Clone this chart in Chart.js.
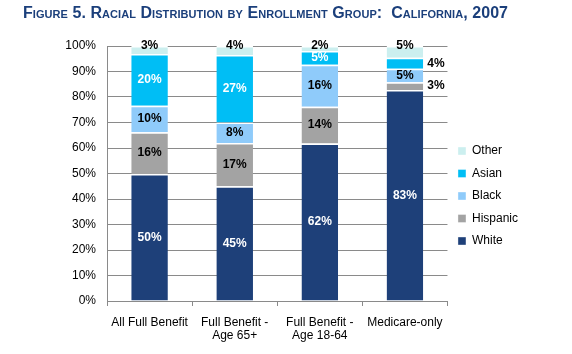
<!DOCTYPE html>
<html><head><meta charset="utf-8">
<script src="https://cdn.jsdelivr.net/npm/chart.js@4/dist/chart.umd.min.js"></script>
<style>
html,body{margin:0;padding:0;background:#fff;}
#wrap{position:relative;width:572px;height:354px;overflow:hidden;}
canvas{position:absolute;left:0;top:0;}
#title{position:absolute;left:23px;top:4px;font:bold 16px "Liberation Sans",Arial,sans-serif;font-variant:small-caps;letter-spacing:0.06px;color:#1B3F7B;white-space:nowrap;}
</style></head><body>
<div id="wrap"><canvas id="c" width="572" height="354"></canvas><div id="title">Figure 5. Racial Distribution by Enrollment Group:&nbsp; California, 2007</div></div>
<script>
const categories = [["All Full Benefit"], ["Full Benefit -", "Age 65+"], ["Full Benefit -", "Age 18-64"], ["Medicare-only"]];
const seriesNames = ["White", "Hispanic", "Black", "Asian", "Other"];
const white    = [49.8, 45.0, 61.8, 82.7];
const hispanic = [16.4, 17.0, 14.4, 3.1];
const black    = [10.4, 8.0, 16.4, 5.3];
const asian    = [20.3, 26.5, 5.4, 4.3];
const other    = [3.1, 3.5, 2.0, 4.6];
const yTicks = [0,10,20,30,40,50,60,70,80,90,100];

const FONT = '"Liberation Sans", Arial, sans-serif';
const GRID = '#8A8A8A';
const colors = ['#1E4079', '#A3A3A3', '#8FCBFA', '#00BEF5', '#CCEFEF'];
const labelColors = ['#FFFFFF', '#000000', '#000000', '#FFFFFF', '#000000'];
const values = [white, hispanic, black, asian, other];

const segLabels = {
  id: 'segLabels',
  afterDatasetsDraw(chart) {
    const ctx = chart.ctx;
    ctx.save();
    ctx.font = 'bold 12px ' + FONT;
    ctx.textBaseline = 'middle';
    chart.data.datasets.forEach((ds, di) => {
      const meta = chart.getDatasetMeta(di);
      meta.data.forEach((bar, i) => {
        const v = ds.data[i];
        const txt = Math.round(v) + '%';
        const p = bar.getProps(['x', 'y', 'base', 'width'], true);
        let tx = p.x, ty = (p.y + p.base) / 2, align = 'center', color = labelColors[di];
        if (ds.label === 'Other') { ty = p.y; }
        else if (v < 4.5) { tx = p.x + p.width / 2 + 4; align = 'left'; color = '#000000'; }
        ctx.textAlign = align;
        ctx.fillStyle = color;
        ctx.fillText(txt, tx, ty);
      });
    });
    ctx.restore();
  }
};

new Chart(document.getElementById('c'), {
  type: 'bar',
  data: {
    labels: categories,
    datasets: seriesNames.map((n, k) => ({
      label: n,
      data: values[k],
      backgroundColor: colors[k],
      borderColor: '#FFFFFF',
      borderWidth: {top: 1.5, left: 0, right: 0, bottom: 0},
      borderSkipped: false,
      barPercentage: 0.43,
      categoryPercentage: 1.0
    }))
  },
  options: {
    responsive: false,
    animation: false,
    layout: {padding: {top: 46, right: 44, bottom: 0, left: 0}},
    plugins: {
      tooltip: {enabled: false},
      title: {display: false},
      legend: {
        position: 'right',
        fullSize: false,
        reverse: true,
        title: {display: true, text: '', font: {size: 12, family: FONT}, padding: {top: 30.6, bottom: 0}},
        labels: {
          boxWidth: 8, boxHeight: 8, padding: 10.5,
          color: '#000000',
          font: {size: 12, family: FONT}
        }
      }
    },
    scales: {
      x: {
        stacked: true,
        grid: {display: true, drawOnChartArea: false, drawTicks: true, tickLength: 5, offset: true, color: GRID},
        border: {display: true, color: GRID},
        ticks: {color: '#000000', padding: 10, maxRotation: 0, autoSkip: false, font: {size: 12, family: FONT, lineHeight: 1.1}},
        afterFit(s) { s.height = 53; }
      },
      y: {
        stacked: true,
        min: 0, max: 100,
        afterBuildTicks(s) { s.ticks = yTicks.map(v => ({value: v})); },
        grid: {color: GRID, drawTicks: false},
        border: {display: true, color: GRID},
        ticks: {color: '#000000', padding: 11, font: {size: 12, family: FONT}, callback: v => v + '%'},
        afterFit(s) { s.width = 107; }
      }
    }
  },
  plugins: [segLabels]
});
</script>
</body></html>
